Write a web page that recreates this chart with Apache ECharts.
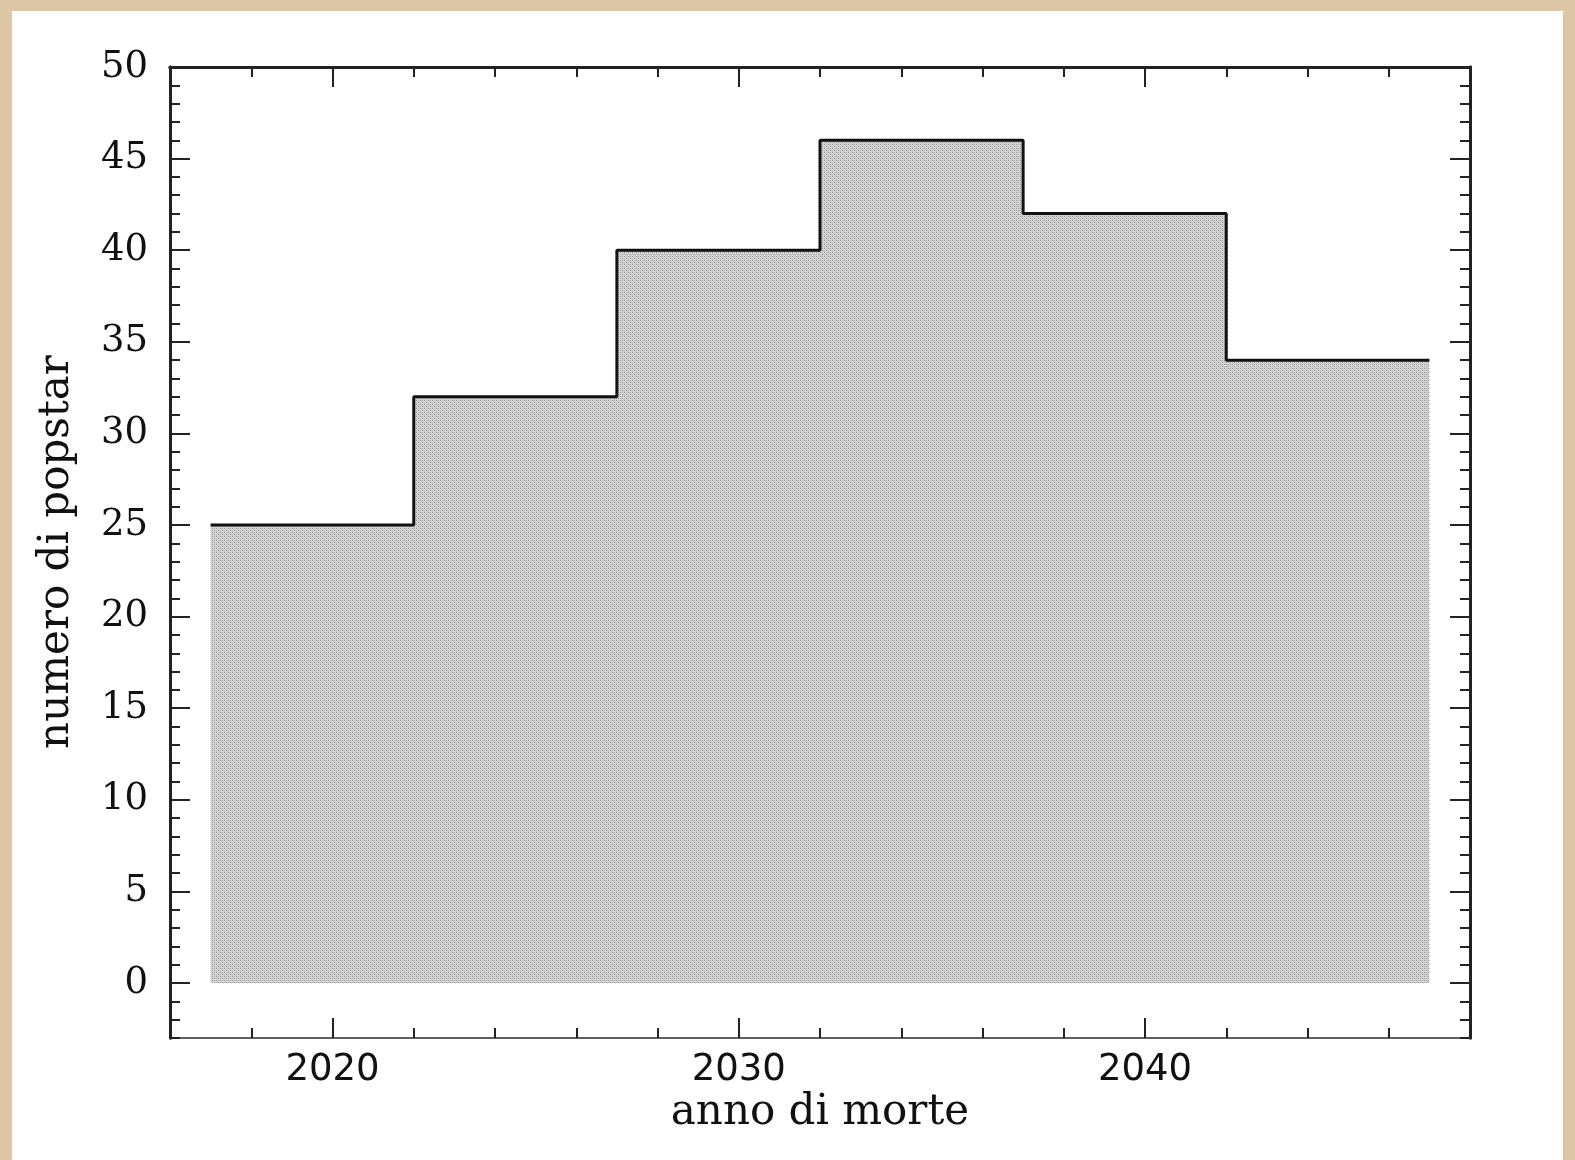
<!DOCTYPE html>
<html>
<head>
<meta charset="utf-8">
<script src="https://cdn.jsdelivr.net/npm/echarts@6/dist/echarts.min.js"></script>
<style>
  html, body { margin: 0; padding: 0; background: #dcc6a5; }
  #chart { width: 1575px; height: 1160px; }
</style>
</head>
<body>
<div id="chart"></div>
<script>
// istogramma: bordi dei bin (anni) e conteggi
var binEdges = [2017, 2022, 2027, 2032, 2037, 2042, 2047];
var counts = [25, 32, 40, 46, 42, 34];
var xMajor = [2020, 2030, 2040];
var xMinor = [2016, 2018, 2022, 2024, 2026, 2028, 2032, 2034, 2036, 2038, 2042, 2044, 2046, 2048];
var yMajor = [0, 5, 10, 15, 20, 25, 30, 35, 40, 45, 50];
var yMinor = [-3, -2, -1, 1, 2, 3, 4, 6, 7, 8, 9, 11, 12, 13, 14, 16, 17, 18, 19, 21, 22, 23, 24,
  26, 27, 28, 29, 31, 32, 33, 34, 36, 37, 38, 39, 41, 42, 43, 44, 46, 47, 48, 49];

// punti per la linea a gradini
var stepData = [];
for (var i = 0; i < counts.length; i++) {
  stepData.push([binEdges[i], counts[i]]);
}
stepData.push([binEdges[binEdges.length - 1], counts[counts.length - 1]]);

// retino grigio puntinato
function makePattern() {
  var c = document.createElement('canvas');
  c.width = 4; c.height = 4;
  var ctx = c.getContext('2d');
  ctx.fillStyle = '#d2d2d2';
  ctx.fillRect(0, 0, 4, 4);
  ctx.fillStyle = '#9c9c9c';
  ctx.fillRect(0, 0, 1, 1);
  ctx.fillRect(2, 2, 1, 1);
  ctx.fillStyle = '#b4b4b4';
  ctx.fillRect(2, 0, 1, 1);
  ctx.fillRect(0, 2, 1, 1);
  return c;
}

var serifFont = 'DejaVu Serif';
var axisCol = '#222';

function xAxisDef(pos, ticks, len, showLabel) {
  return {
    type: 'value', position: pos, min: 2016, max: 2048,
    axisLine: { show: true, onZero: false,
      lineStyle: { color: pos === 'top' ? axisCol : '#555', width: pos === 'top' ? 3 : 1.5 } },
    axisTick: { show: true, inside: true, length: len, customValues: ticks,
      lineStyle: { color: axisCol, width: 2 } },
    axisLabel: { show: showLabel, customValues: ticks, margin: 14,
      formatter: function (v) { return String(v); },
      fontFamily: 'DejaVu Sans', fontSize: 37, color: '#111' },
    splitLine: { show: false }
  };
}
function yAxisDef(pos, ticks, len, showLabel) {
  return {
    type: 'value', position: pos, min: -3, max: 50,
    axisLine: { show: true, onZero: false, lineStyle: { color: axisCol, width: 3 } },
    axisTick: { show: true, inside: true, length: len, customValues: ticks,
      lineStyle: { color: axisCol, width: 2 } },
    axisLabel: { show: showLabel, customValues: ticks, margin: 22,
      fontFamily: serifFont, fontSize: 37, color: '#111' },
    splitLine: { show: false }
  };
}

var myChart = echarts.init(document.getElementById('chart'));
var option = {
  backgroundColor: 'transparent',
  animation: false,
  graphic: [{
    type: 'rect', z: -10, silent: true,
    shape: { x: 12, y: 11, width: 1551, height: 1149 },
    style: { fill: '#ffffff' }
  }, {
    type: 'text', x: 820, y: 1113,
    style: { text: 'anno di morte', font: '42px "DejaVu Serif"', fill: '#111',
      align: 'center', verticalAlign: 'middle' }
  }, {
    type: 'text', x: 57, y: 552, rotation: Math.PI / 2,
    style: { text: 'numero di popstar', font: '42px "DejaVu Serif"', fill: '#111',
      align: 'center', verticalAlign: 'middle' }
  }],
  grid: { left: 170, top: 67, right: 105, bottom: 122, containLabel: false },
  xAxis: [
    xAxisDef('bottom', xMajor, 20, true),
    xAxisDef('bottom', xMinor, 10, false),
    xAxisDef('top', xMajor, 20, false),
    xAxisDef('top', xMinor, 10, false)
  ],
  yAxis: [
    yAxisDef('left', yMajor, 20, true),
    yAxisDef('left', yMinor, 10, false),
    yAxisDef('right', yMajor, 20, false),
    yAxisDef('right', yMinor, 10, false)
  ],
  series: [{
    type: 'line',
    step: 'end',
    data: stepData,
    symbol: 'none',
    lineStyle: { color: '#111', width: 3 },
    areaStyle: { origin: 0, opacity: 1, color: { image: makePattern(), repeat: 'repeat' } }
  }]
};
myChart.setOption(option);
</script>
</body>
</html>
